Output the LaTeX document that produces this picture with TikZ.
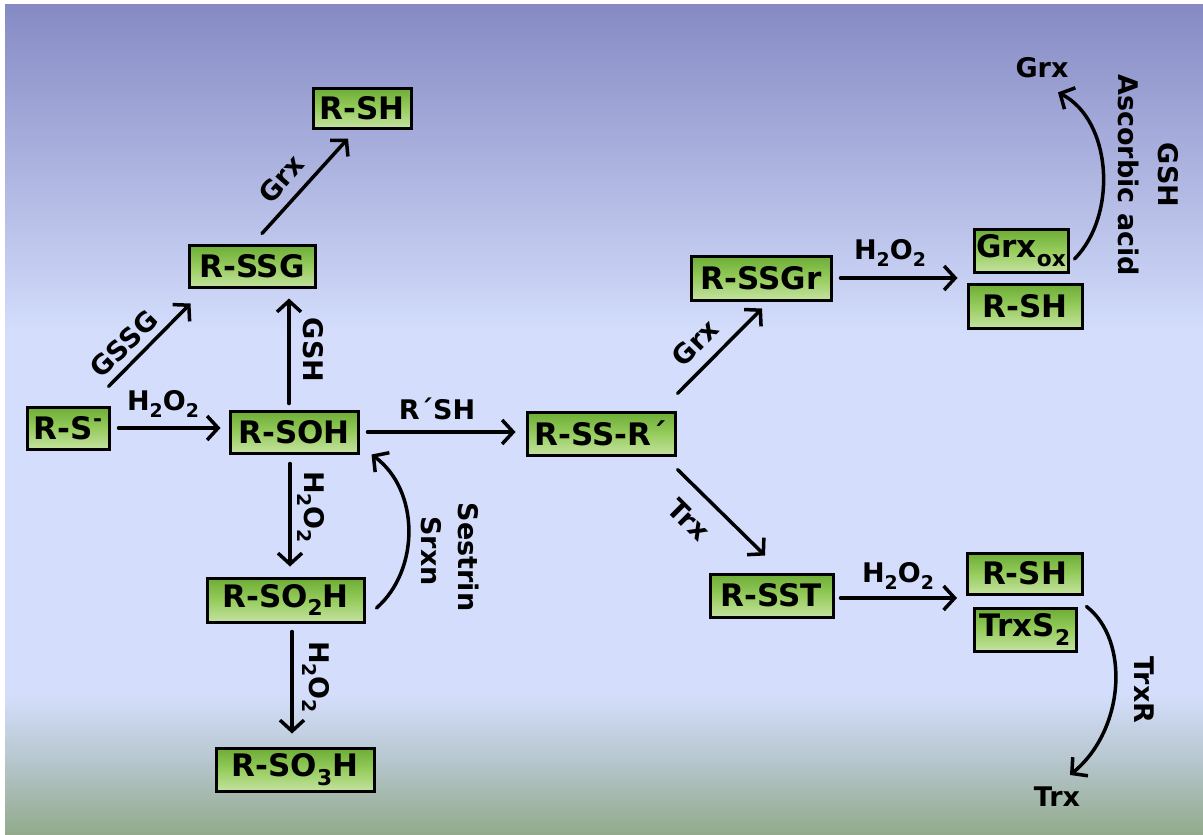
\documentclass[tikz,border=0pt]{standalone}
\usepackage{fontspec}
\setmainfont{DejaVu Sans}
\usetikzlibrary{arrows.meta,calc}
\definecolor{bgtop}{RGB}{134,138,196}
\definecolor{bgmid}{RGB}{212,222,252}
\definecolor{bglow}{RGB}{182,198,205}
\definecolor{bgbot}{RGB}{145,170,138}
\definecolor{gtop}{RGB}{108,172,54}
\definecolor{gmid}{RGB}{150,204,92}
\definecolor{gbot}{RGB}{196,226,160}
\newcommand{\lo}[1]{\raisebox{-0.28em}{\scalebox{0.7}{#1}}}
\newcommand{\hi}[1]{\raisebox{0.42em}{\scalebox{0.7}{#1}}}
\begin{document}
\begin{tikzpicture}[x=1pt,y=-1pt,
 box/.style={draw=black,line width=3pt,top color=gtop,bottom color=gbot,middle color=gmid,inner sep=0pt,font=\fontsize{31}{31}\selectfont\bfseries},
 arr/.style={line width=3.5pt,line cap=round,-{Straight Barb[length=11pt,width=24pt]}},
 lab/.style={font=\fontsize{27}{27}\selectfont\bfseries,inner sep=0pt},
]
\useasboundingbox (0,0) rectangle (1203,835);
\fill[white] (0,0) rectangle (1203,835);
\shade[top color=bgtop,bottom color=bgmid] (5,4) rectangle (1203,336);
\fill[bgmid] (5,335) rectangle (1203,695);
\shade[top color=bgmid,bottom color=bglow] (5,694) rectangle (1203,762);
\shade[top color=bglow,bottom color=bgbot] (5,761) rectangle (1203,835);

% boxes
\node[box,minimum width=82pt,minimum height=42pt] (rs) at (68,428) {R-S\hi{-}};
\node[box,minimum width=128pt,minimum height=42pt] (rsoh) at (294,432) {R-SOH};
\node[box,minimum width=98pt,minimum height=40pt] (rsh1) at (362,108) {R-SH};
\node[box,minimum width=126pt,minimum height=42pt] (ssg) at (252,266) {R-SSG};
\node[box,minimum width=157pt,minimum height=44pt] (so2h) at (285.5,600) {R-SO\lo{2}H};
\node[box,minimum width=158pt,minimum height=43pt] (so3h) at (295,769.5) {R-SO\lo{3}H};
\node[box,minimum width=148pt,minimum height=43pt] (rssr) at (601,433.5) {R-SS-R´};
\node[box,minimum width=140pt,minimum height=44pt] (rssgr) at (761,278) {R-SSGr};
\node[box,minimum width=94pt,minimum height=43pt] (grxox) at (1021,250.5) {Grx\lo{ox}};
\node[box,minimum width=114pt,minimum height=44pt] (rsh2) at (1025,306) {R-SH};
\node[box,minimum width=123pt,minimum height=43pt] (rsst) at (771.5,595.5) {R-SST};
\node[box,minimum width=115pt,minimum height=41pt] (rsh3) at (1024.5,573.5) {R-SH};
\node[box,minimum width=102pt,minimum height=43pt] (trxs2) at (1025,629.5) {TrxS\lo{2}};

% free text
\node[lab] (grxtop) at (1042,68) {Grx};
\node[lab] (trxbot) at (1057,797) {Trx};

\coordinate (m1) at ($(grxox.south west)!0.5!(rsh2.north west)$);
\coordinate (m2) at ($(rsh3.south west)!0.5!(trxs2.north west)$);

% arrows
\draw[arr] ([shift={(8,0)}]rs.east) -- ([shift={(-8,-4)}]rsoh.west);
\draw[arr] ([shift={(-2,-19)}]rs.north east) -- ([shift={(3,15)}]ssg.south west);
\draw[arr] ([shift={(-5,-6)}]rsoh.north) -- ([shift={(37,10)}]ssg.south);
\draw[arr] ([shift={(10,-10)}]ssg.north) -- ([shift={(-14,9)}]rsh1.south);
\draw[arr] ([shift={(-4,9)}]rsoh.south) -- ([shift={(4.5,-10)}]so2h.north);
\draw[arr] ([shift={(6.5,8)}]so2h.south) -- ([shift={(-3,-13)}]so3h.north);
\draw[arr] ([shift={(11,8)}]so2h.east) .. controls (420,570) and (420,490) .. ([shift={(12,0)}]rsoh.south east);
\draw[arr] ([shift={(8,0)}]rsoh.east) -- ([shift={(-10,-1.5)}]rssr.west);
\draw[arr] ([shift={(1,-17)}]rssr.north east) -- ([shift={(1,7)}]rssgr.south);
\draw[arr] ([shift={(1,13)}]rssr.south east) -- ([shift={(-6.5,-17)}]rsst.north);
\draw[arr] ([shift={(8,0)}]rssgr.east) -- ([shift={(-12,0)}]m1);
\draw[arr] ([shift={(6,2.5)}]rsst.east) -- ([shift={(-12,-3)}]m2);
\draw[arr] ([shift={(5,8.5)}]grxox.east) .. controls (1118,215) and (1112,120) .. ([shift={(16,14)}]grxtop.south);
\draw[arr] ([shift={(9,0)}]trxs2.north east) .. controls (1130,640) and (1125,730) .. ([shift={(13,-12)}]trxbot.north);

% labels
\node[lab] (l1) at (163,404) {H\lo{2}O\lo{2}};
\node[lab,rotate=45] (l2) at (124,344) {GSSG};
\node[lab,rotate=49] (l3) at (281,179) {Grx};
\node[lab,rotate=-90] (l4) at (313,350) {GSH};
\node[lab,rotate=-90] (l5) at (311,507) {H\lo{2}O\lo{2}};
\node[lab,rotate=-90] (l6) at (316,677) {H\lo{2}O\lo{2}};
\node[lab,rotate=-90] (l7) at (431,551) {Srxn};
\node[lab,rotate=-90] (l8) at (469,557) {Sestrin};
\node[lab] (l9) at (437,409) {R´SH};
\node[lab,rotate=46] (l10) at (695,343) {Grx};
\node[lab,rotate=-45] (l11) at (689,520) {Trx};
\node[lab] (l12) at (890,253) {H\lo{2}O\lo{2}};
\node[lab] (l13) at (898,576) {H\lo{2}O\lo{2}};
\node[lab,rotate=-90] (l14) at (1129,175) {Ascorbic acid};
\node[lab,rotate=-90] (l15) at (1168,175) {GSH};
\node[lab,rotate=-90] (l16) at (1144,690) {TrxR};
\end{tikzpicture}
\end{document}
